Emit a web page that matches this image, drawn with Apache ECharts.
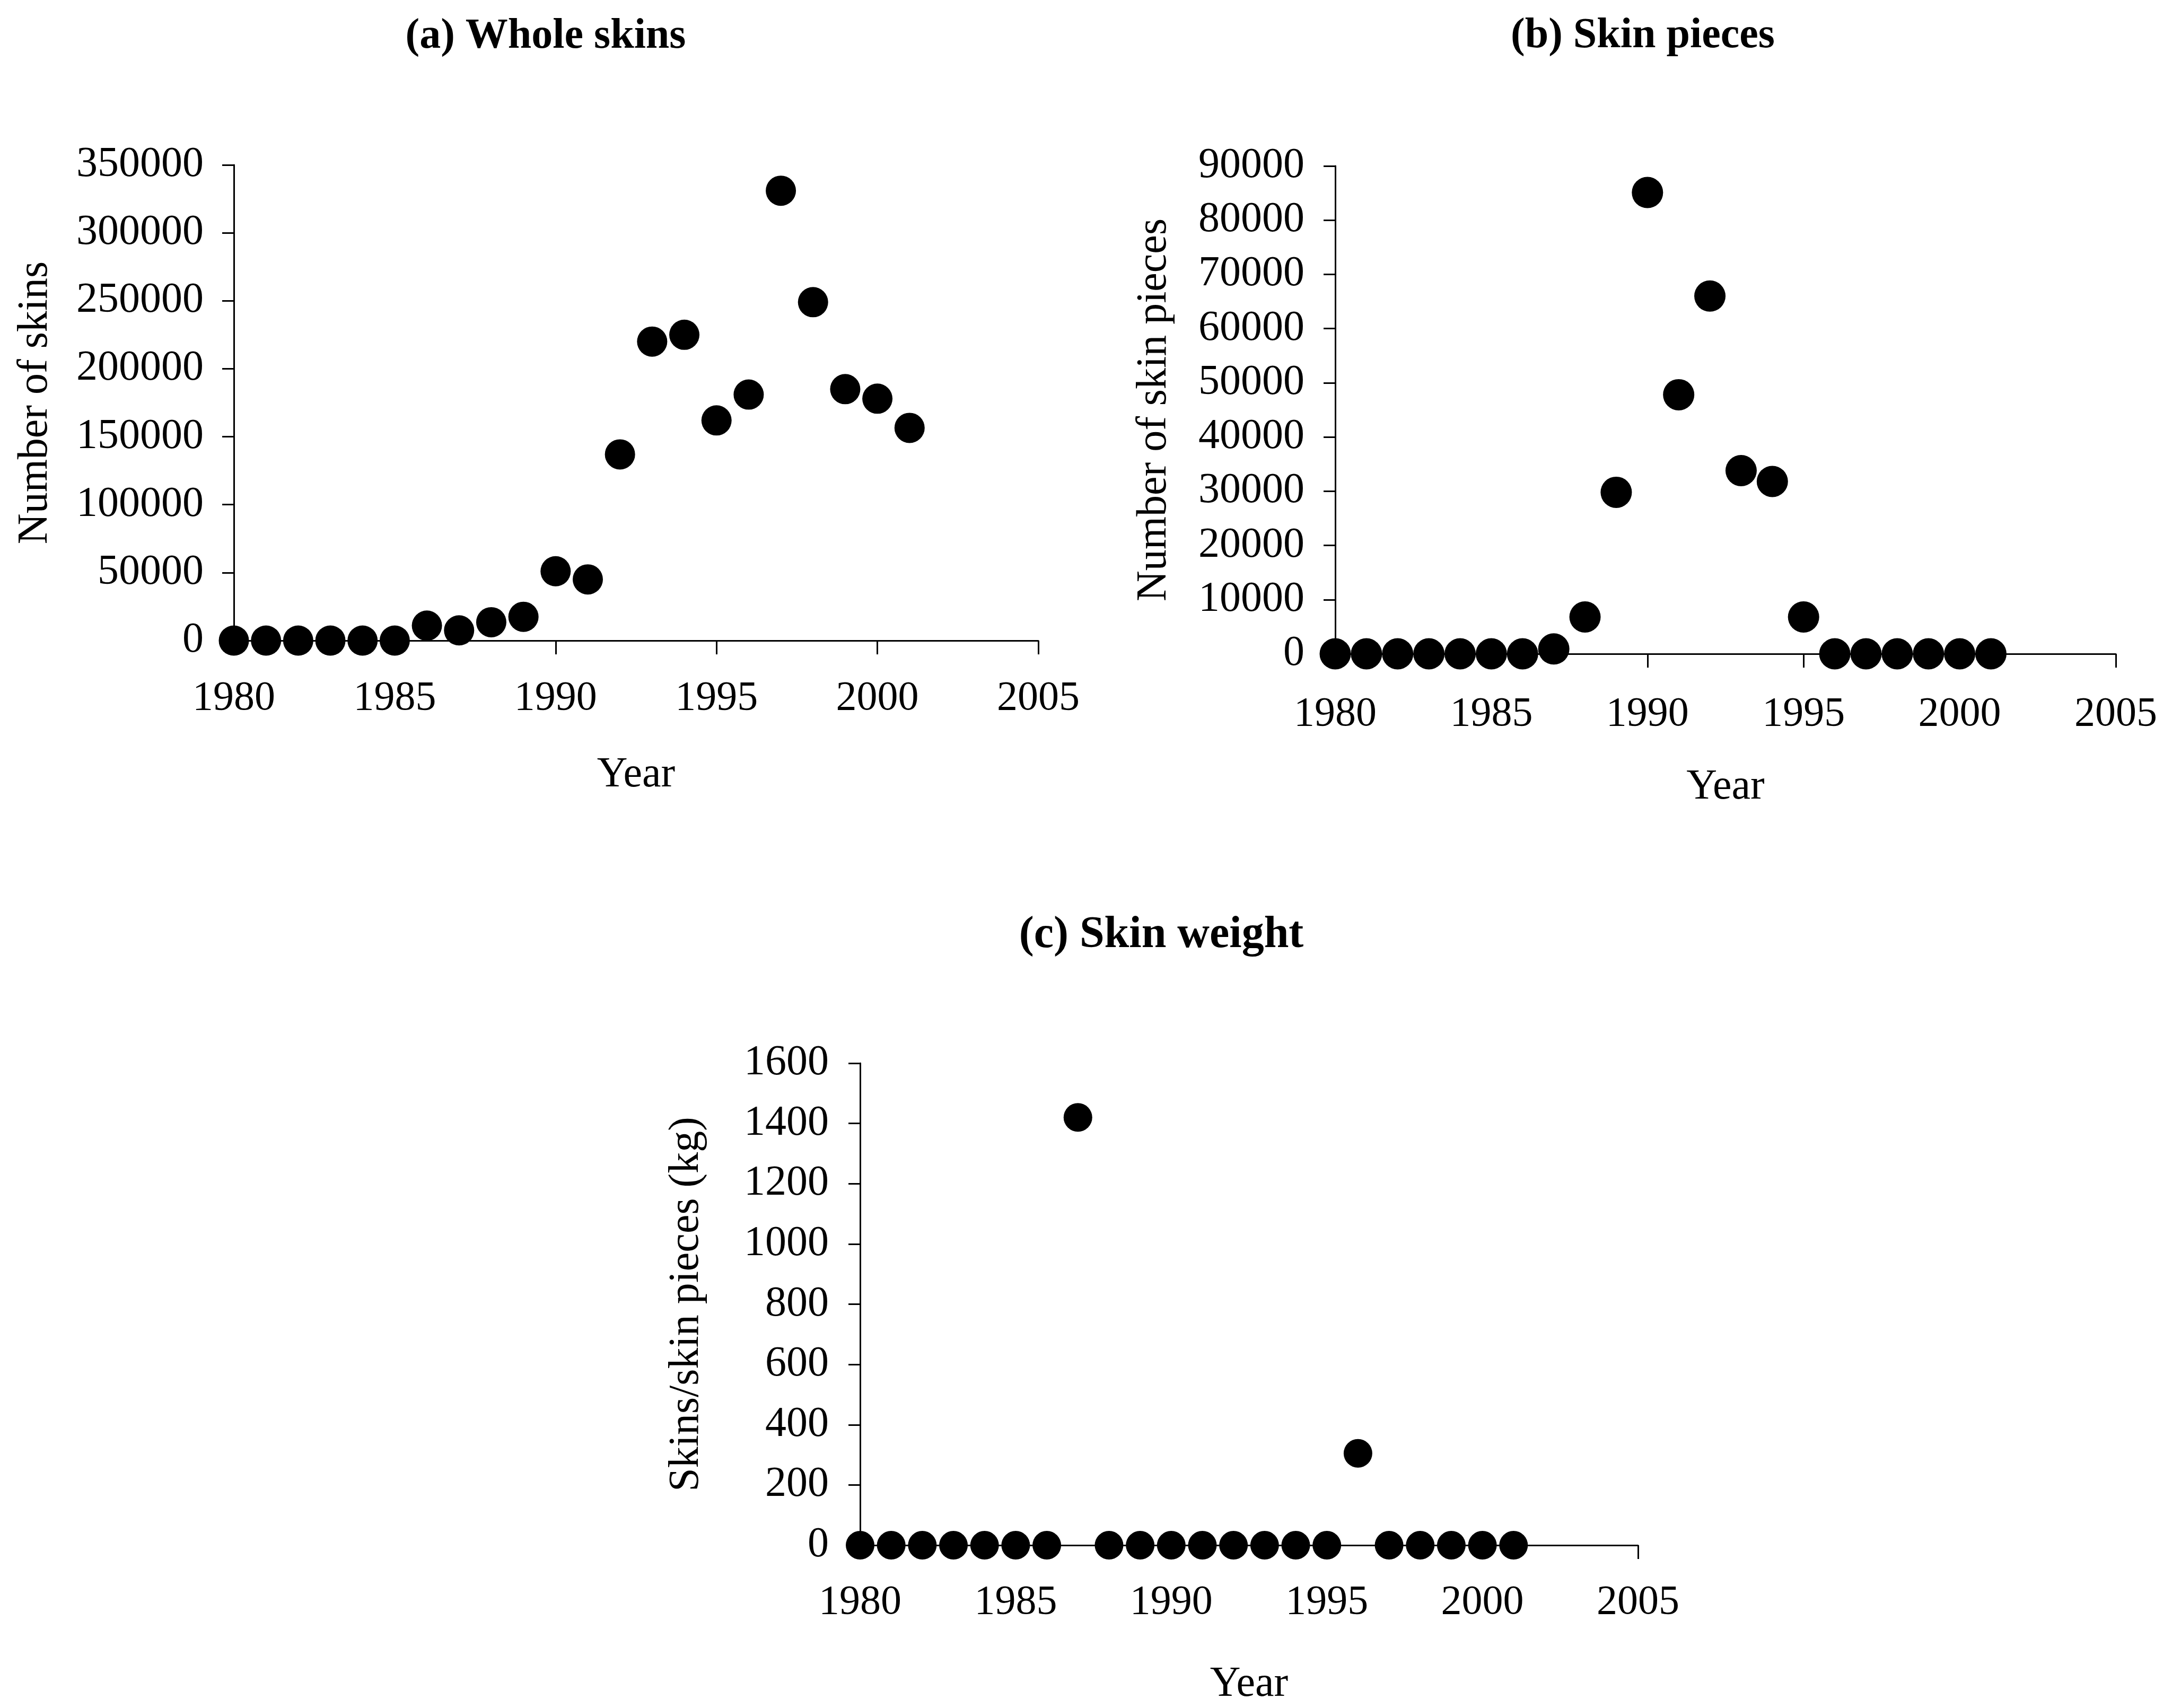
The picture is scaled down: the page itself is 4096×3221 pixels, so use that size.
<!DOCTYPE html>
<html><head><meta charset="utf-8">
<script src="https://cdn.jsdelivr.net/npm/echarts@6/dist/echarts.min.js"></script>
<style>html,body{margin:0;padding:0;background:#fff}#c{width:4096px;height:3221px}</style>
</head><body><div id="c"></div>
<script>
const years = [1980,1981,1982,1983,1984,1985,1986,1987,1988,1989,1990,1991,1992,1993,1994,1995,1996,1997,1998,1999,2000,2001];
const wholeSkins = [0,0,0,0,0,0,11000,7500,13500,17500,51000,45000,137000,220000,225000,162000,181000,331000,249000,185000,178000,156500];
const skinPieces = [0,0,0,0,0,0,0,900,6800,29800,85100,47800,66000,33800,31800,6800,0,0,0,0,0,0];
const skinWeight = [0,0,0,0,0,0,0,1420,0,0,0,0,0,0,0,0,305,0,0,0,0,0];
const panelTitles = ['(a) Whole skins','(b) Skin pieces','(c) Skin weight'];
const yNames = ['Number of skins','Number of skin pieces','Skins/skin pieces (kg)'];
const xName = 'Year';

const FONT = 'Liberation Serif';
const pairs = v => years.map((y,i)=>[y,v[i]]);

const grids = [
  {left:441, top:311, width:1517, height:897},
  {left:2518, top:313, width:1472, height:920},
  {left:1622, top:2005, width:1467, height:909}
];
const yCfg = [
  {max:350000, interval:50000, gap:334, margin:57},
  {max:90000, interval:10000, gap:301, margin:58},
  {max:1600, interval:200, gap:287, margin:59}
];
const xCfg = [{gap:214, margin:71},{gap:212, margin:76},{gap:223, margin:70}];
const symSizes = [57,59,54];
const seriesData = [wholeSkins, skinPieces, skinWeight];

const axisLine = {show:true, onZero:true, lineStyle:{color:'#000', width:3}};
const option = {
  backgroundColor:'#fff',
  animation:false,
  grid: grids.map(g=>Object.assign({containLabel:false}, g)),
  xAxis: grids.map((g,i)=>({
    type:'value', gridIndex:i, min:1980, max:2005, interval:5,
    name:xName, nameLocation:'middle', nameGap:xCfg[i].gap,
    nameTextStyle:{fontFamily:FONT, fontSize:80, color:'#000'},
    axisLine:axisLine,
    axisTick:{show:true, inside:false, length:26, lineStyle:{color:'#000', width:3}},
    axisLabel:{fontFamily:FONT, fontSize:78, color:'#000', margin:xCfg[i].margin, formatter:v=>String(v)},
    splitLine:{show:false}
  })),
  yAxis: grids.map((g,i)=>({
    type:'value', gridIndex:i, min:0, max:yCfg[i].max, interval:yCfg[i].interval,
    name:yNames[i], nameLocation:'middle', nameGap:yCfg[i].gap, nameRotate:90,
    nameTextStyle:{fontFamily:FONT, fontSize:80, color:'#000'},
    axisLine:axisLine,
    axisTick:{show:true, inside:false, length:22, lineStyle:{color:'#000', width:3}},
    axisLabel:{fontFamily:FONT, fontSize:80, color:'#000', margin:yCfg[i].margin, formatter:v=>String(v)},
    splitLine:{show:false}
  })),
  series: seriesData.map((d,i)=>({
    type:'scatter', xAxisIndex:i, yAxisIndex:i, data:pairs(d),
    symbol:'circle', symbolSize:symSizes[i],
    itemStyle:{color:'#000', opacity:1}
  })),
  graphic: [
    {type:'text', x:1029, y:69, style:{text:panelTitles[0], font:'bold 80px "Liberation Serif"', fill:'#000', textAlign:'center', textVerticalAlign:'middle'}},
    {type:'text', x:3098, y:68, style:{text:panelTitles[1], font:'bold 80px "Liberation Serif"', fill:'#000', textAlign:'center', textVerticalAlign:'middle'}},
    {type:'text', x:2190, y:1764, style:{text:panelTitles[2], font:'bold 84px "Liberation Serif"', fill:'#000', textAlign:'center', textVerticalAlign:'middle'}}
  ]
};
const chart = echarts.init(document.getElementById('c'), null, {renderer:'canvas'});
chart.setOption(option);
</script>
</body></html>
